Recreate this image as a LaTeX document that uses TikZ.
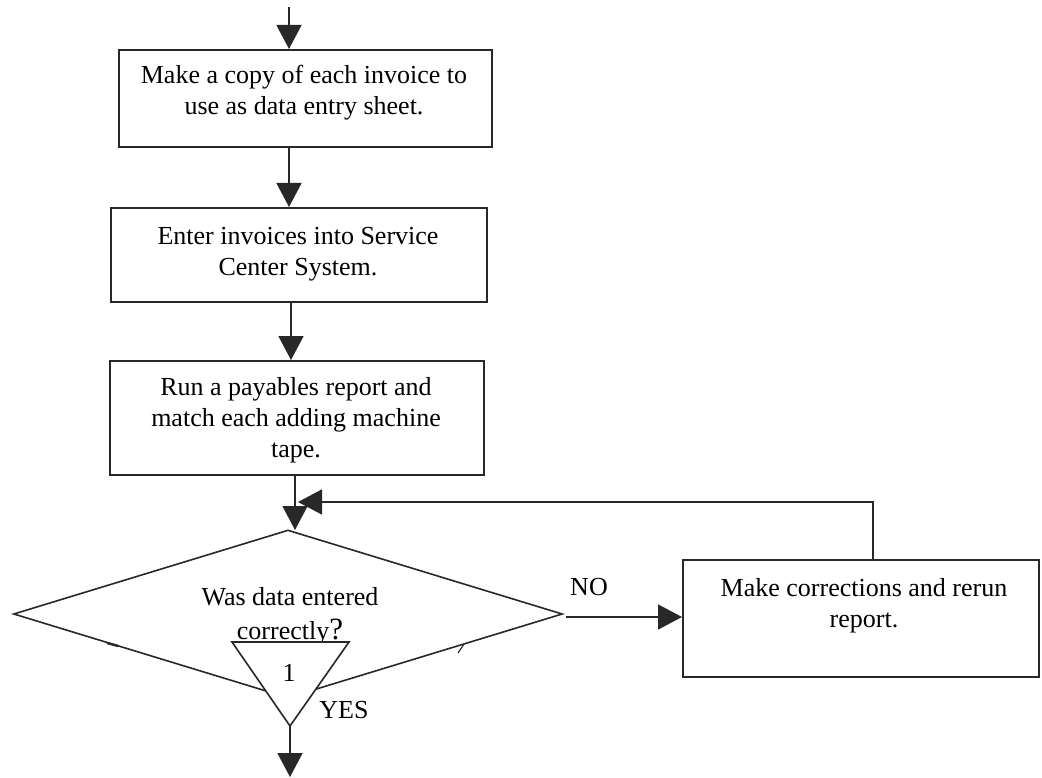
\documentclass[tikz,border=0pt]{standalone}
\usepackage{fontspec}
\setmainfont{Liberation Serif}
\usetikzlibrary{arrows.meta,shapes.geometric}
\definecolor{lc}{RGB}{40,40,40}
\tikzset{
  ln/.style={draw=lc, line width=1.6pt},
  arr/.style={ln, -{Triangle[length=24pt,width=25pt]}},
  boxnode/.style={ln, rectangle, anchor=north west, inner sep=0pt},
  txt/.style={font=\fontsize{26}{31}\selectfont, align=center, inner sep=0pt, text=black},
  dianode/.style={ln, diamond, inner sep=0pt, aspect=3.27},
}
\begin{document}
\begin{tikzpicture}[x=1pt,y=-1pt]
\useasboundingbox[fill=white] (0,0) rectangle (1042,778);
% boxes
\node[boxnode, minimum width=373pt, minimum height=97pt] (b1) at (118,49) {};
\node[txt] (t1) at (304,93) {Make a copy of each invoice to\\use as data entry sheet.};
\node[boxnode, minimum width=376pt, minimum height=94pt] (b2) at (110,207) {};
\node[txt] (t2) at (298,254) {Enter invoices into Service\\Center System.};
\node[boxnode, minimum width=374pt, minimum height=114pt] (b3) at (109,360) {};
\node[txt] (t3) at (296,420) {Run a payables report and\\match each adding machine\\tape.};
\node[boxnode, minimum width=356pt, minimum height=117pt] (b4) at (682,559) {};
\node[txt] (t4) at (864,606) {Make corrections and rerun\\report.};
% decision
\node[dianode, minimum width=549pt, minimum height=168pt] (dia) at (288,614) {};
\node[txt] (q1) at (290,597) {Was data entered};
\node[txt, anchor=base] (q2) at (290,639) {correctly{\fontsize{31}{31}\selectfont ?}};
% small marks on the lower diamond edges
\draw[ln, line width=2.4pt] (107,643) -- (118,646);
\draw[ln, line width=1.2pt] (458,653) -- (464,644);
% connector triangle
\coordinate (triL) at (232,642);
\coordinate (triR) at (349,642);
\coordinate (triB) at (290,726);
\draw[ln, fill=white] (triL) -- (triR) -- (triB) -- cycle;
\node[txt] (one) at (289,673) {1};
\node[txt] (yes) at (344,710) {YES};
\node[txt] (no) at (589,587) {NO};
% connectors
\coordinate (topin) at (289,7);
\coordinate (c1) at (289,0);
\coordinate (c2) at (291,0);
\coordinate (c3) at (295,0);
\coordinate (diatop) at (295,530);
\coordinate (nostart) at (566,617);
\coordinate (fb) at (873,502);
\coordinate (fbend) at (298,502);
\coordinate (outend) at (290,777);
\draw[arr] (topin) -- (b1.north -| topin);
\draw[arr] (b1.south -| c1) -- (b2.north -| c1);
\draw[arr] (b2.south -| c2) -- (b3.north -| c2);
\draw[arr] (b3.south -| c3) -- (diatop);
\draw[arr] (nostart) -- (nostart -| b4.west);
\draw[arr] (b4.north -| fb) -- (fb) -- (fbend);
\draw[arr] (triB) -- (outend);
\end{tikzpicture}
\end{document}
